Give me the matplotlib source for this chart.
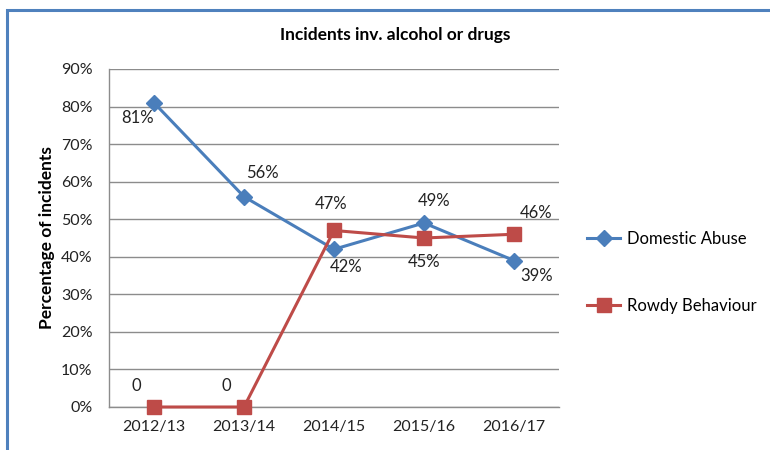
import matplotlib.pyplot as plt
from matplotlib.patches import Rectangle

years = ["2012/13", "2013/14", "2014/15", "2015/16", "2016/17"]
domestic = [81, 56, 42, 49, 39]
rowdy = [0, 0, 47, 45, 46]
domestic_labels = ["81%", "56%", "42%", "49%", "39%"]
rowdy_labels = ["0", "0", "47%", "45%", "46%"]

BLUE = "#4A7EBB"
RED = "#BE4B48"
GRID = "#8C8C8C"

plt.rcParams["font.family"] = ["Lato", "DejaVu Sans"]

fig = plt.figure(figsize=(7.7, 4.5), dpi=100)
fig.patch.set_facecolor("white")

# chart frame (Excel style border)
fig.patches.append(Rectangle((7 / 770, -0.05), 1.0, 1 - 10 / 450 + 0.05,
                             transform=fig.transFigure, fill=False,
                             edgecolor="#4F81BD", linewidth=2.2))

ax = fig.add_axes([109 / 770, 43 / 450, 450 / 770, 338 / 450])
x = list(range(len(years)))

ax.plot(x, domestic, color=BLUE, linewidth=2.2, marker="D", markersize=8,
        label="Domestic Abuse", zorder=3, clip_on=False)
ax.plot(x, rowdy, color=RED, linewidth=2.2, marker="s", markersize=10,
        label="Rowdy Behaviour", zorder=3, clip_on=False)

ax.set_xlim(-0.5, len(years) - 0.5)
ax.set_ylim(0, 90)
ax.set_yticks(range(0, 91, 10))
ax.set_yticklabels([f"{v}%" for v in range(0, 91, 10)])
ax.set_xticks(x)
ax.set_xticklabels(years)
ax.tick_params(length=0, labelsize=11.5, colors="#222222", pad=9)
ax.tick_params(axis="y", pad=12)
ax.grid(axis="y", color=GRID, linewidth=1)
ax.set_axisbelow(True)
for s in ["top", "right"]:
    ax.spines[s].set_visible(False)
for s in ["left", "bottom"]:
    ax.spines[s].set_color(GRID)
    ax.spines[s].set_linewidth(1)

# data labels (offsets in points)
d_off = [(-12, -11), (13, 17), (9, -13), (7, 16), (16, -11)]
r_off = [(-13, 15), (-13, 15), (-2, 19), (0, -17), (16, 15)]
for i in x:
    ax.annotate(domestic_labels[i], (i, domestic[i]), xytext=d_off[i],
                textcoords="offset points", ha="center", va="center",
                fontsize=12, color="#222222")
    ax.annotate(rowdy_labels[i], (i, rowdy[i]), xytext=r_off[i],
                textcoords="offset points", ha="center", va="center",
                fontsize=12, color="#222222")

ax.set_ylabel("Percentage of incidents", fontsize=12.5, fontweight="bold")
ax.yaxis.set_label_coords((55 - 109) / 450, 0.5)
fig.text(395 / 770, 1 - 35 / 450, "Incidents inv. alcohol or drugs",
         ha="center", va="center", fontsize=12.5, fontweight="bold")

fig.legend(loc="upper left", bbox_to_anchor=(572 / 770, 1 - 216 / 450),
           frameon=False, fontsize=12, labelspacing=3.05, handlelength=2.0,
           handletextpad=0.4)

fig.savefig("out.png", dpi=100)
